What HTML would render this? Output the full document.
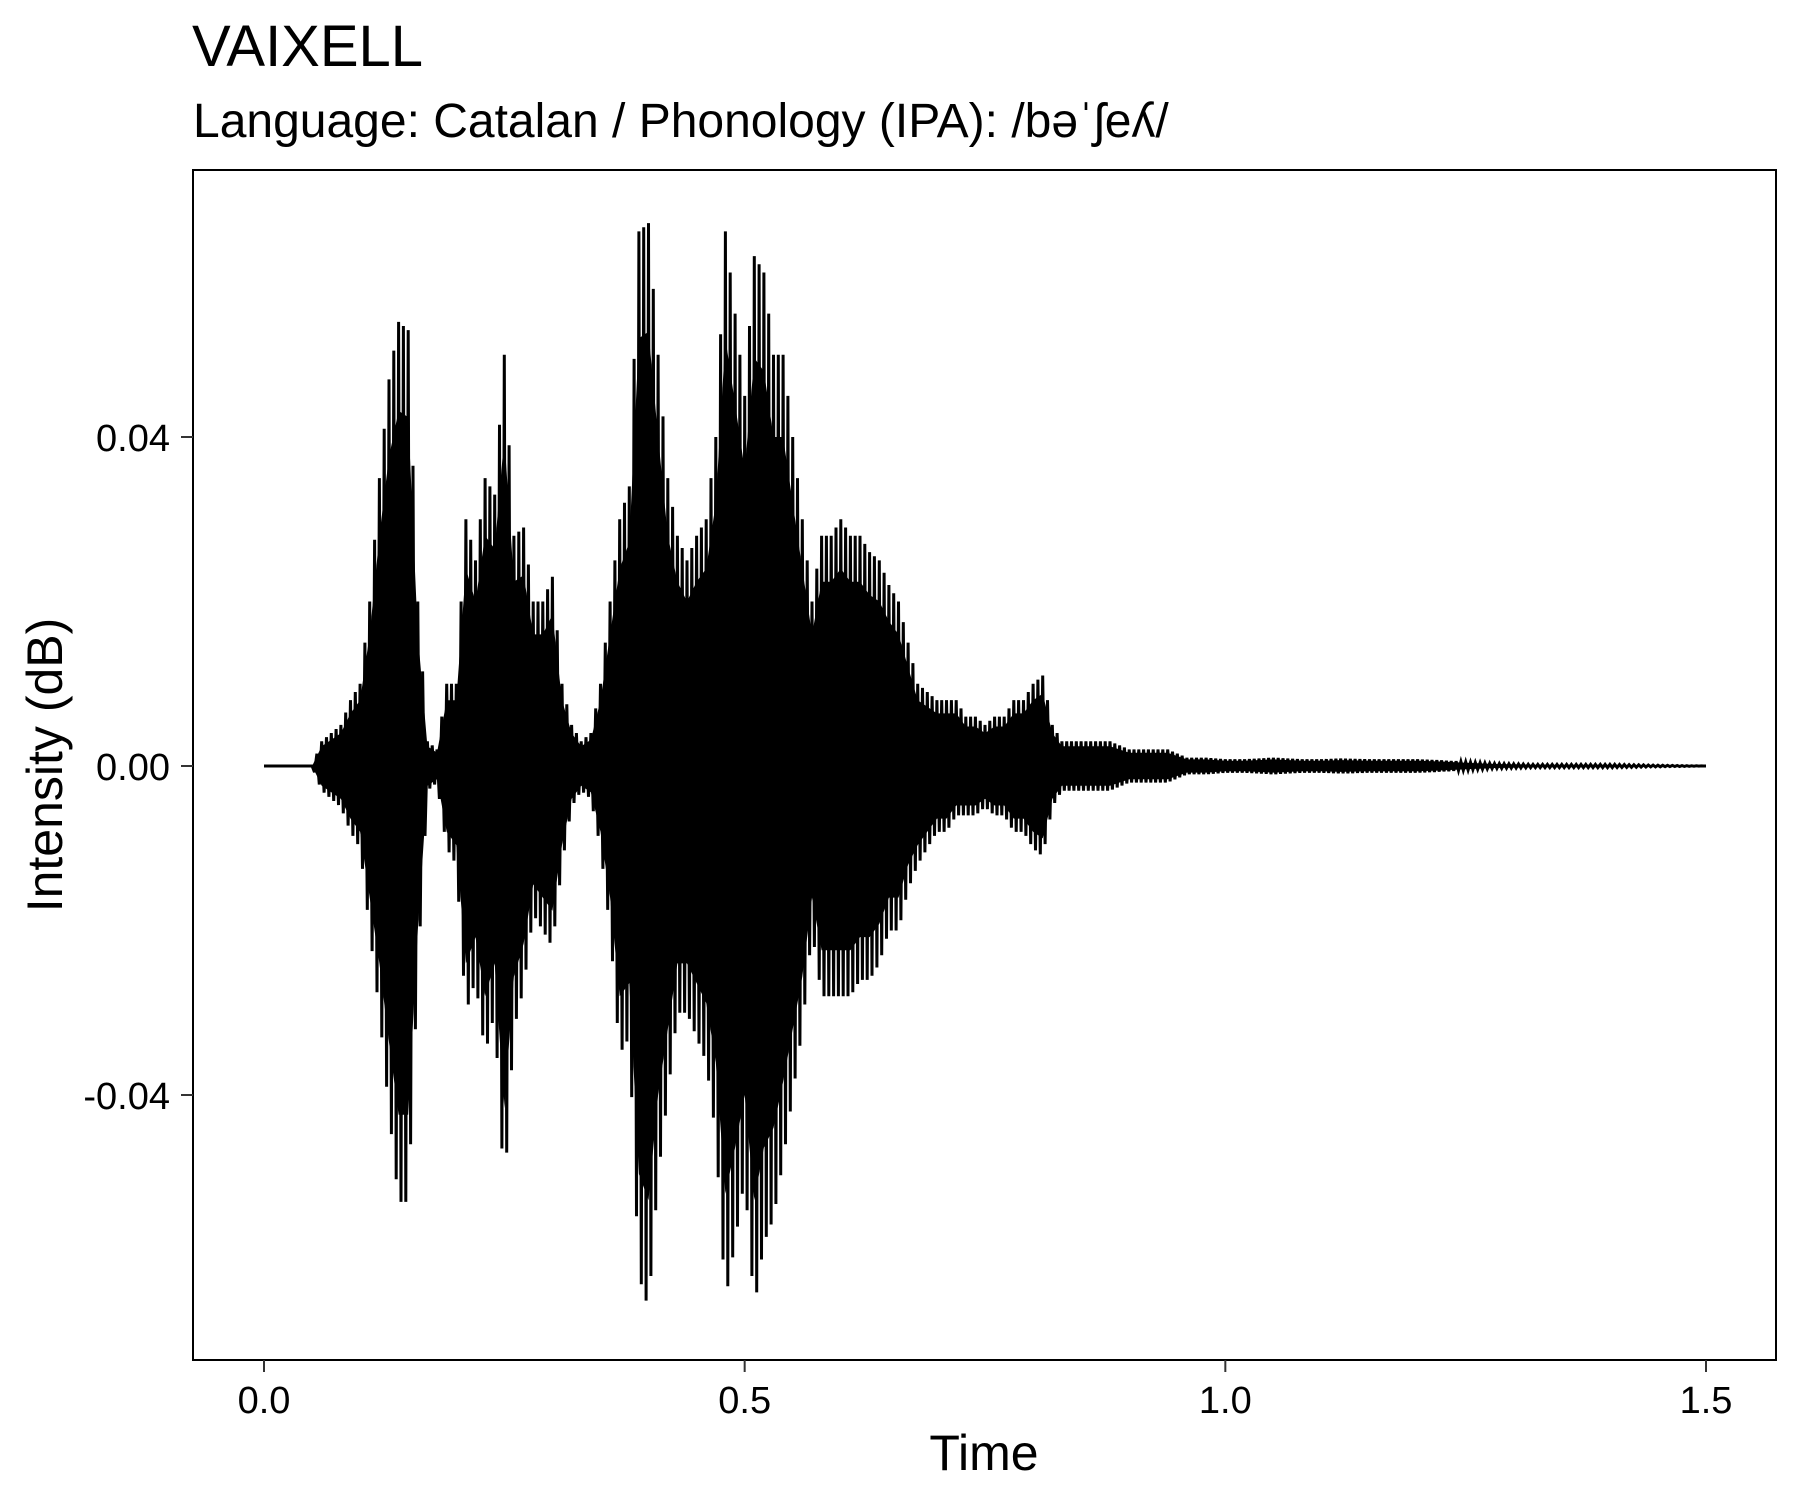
<!DOCTYPE html>
<html><head><meta charset="utf-8"><style>
body{margin:0;background:#fff;}
svg text{font-family:"Liberation Sans",sans-serif;fill:#000;}
</style></head><body>
<svg id="chart" width="1800" height="1500" xmlns="http://www.w3.org/2000/svg">
<rect width="1800" height="1500" fill="#fff"/>
<text x="192" y="66" font-size="58">VAIXELL</text>
<text x="193" y="137" font-size="48">Language: Catalan / Phonology (IPA): /bəˈʃeʎ/</text>
<g id="plot"></g>
<rect x="193" y="170" width="1583" height="1190" fill="none" stroke="#000" stroke-width="2"/>
<text x="984" y="1470" font-size="50" text-anchor="middle">Time</text>
<text transform="translate(62,765) rotate(-90)" font-size="50" text-anchor="middle">Intensity (dB)</text>
</svg>
<script>
const times=[0,0.05,0.06,0.07,0.08,0.09,0.10,0.11,0.12,0.13,0.14,0.15,0.16,0.17,0.18,0.19,0.20,0.21,0.22,0.23,0.24,0.25,0.26,0.27,0.28,0.29,0.30,0.31,0.32,0.33,0.34,0.35,0.36,0.37,0.38,0.39,0.40,0.41,0.42,0.43,0.44,0.45,0.46,0.47,0.48,0.49,0.50,0.51,0.52,0.53,0.54,0.55,0.56,0.57,0.58,0.59,0.60,0.61,0.62,0.63,0.64,0.65,0.66,0.67,0.68,0.69,0.70,0.71,0.72,0.73,0.74,0.75,0.76,0.77,0.78,0.79,0.80,0.81,0.82,0.83,0.84,0.86,0.88,0.90,0.92,0.94,0.96,0.98,1.00,1.02,1.05,1.08,1.10,1.12,1.15,1.18,1.20,1.22,1.25,1.28,1.32,1.36,1.40,1.45,1.50];
const upper=[0,0,0.003,0.004,0.005,0.008,0.010,0.020,0.035,0.047,0.054,0.053,0.020,0.003,0.002,0.010,0.010,0.030,0.025,0.035,0.033,0.050,0.028,0.029,0.020,0.020,0.023,0.010,0.005,0.003,0.004,0.010,0.020,0.030,0.034,0.065,0.066,0.050,0.035,0.028,0.025,0.028,0.030,0.040,0.065,0.055,0.045,0.062,0.060,0.050,0.050,0.040,0.030,0.020,0.028,0.028,0.030,0.028,0.028,0.026,0.025,0.022,0.020,0.015,0.010,0.009,0.008,0.008,0.008,0.006,0.006,0.005,0.006,0.006,0.008,0.008,0.010,0.011,0.005,0.003,0.003,0.003,0.003,0.002,0.002,0.002,0.001,0.001,0.0008,0.0008,0.001,0.0008,0.0008,0.0009,0.0008,0.0008,0.0008,0.0007,0.0005,0.0003,0.0002,0.0002,0.0002,0.0001,0];
const lower=[0,0,-0.003,-0.004,-0.005,-0.008,-0.010,-0.020,-0.030,-0.042,-0.053,-0.053,-0.025,-0.003,-0.002,-0.010,-0.012,-0.030,-0.026,-0.035,-0.030,-0.052,-0.032,-0.027,-0.018,-0.020,-0.022,-0.012,-0.005,-0.003,-0.004,-0.010,-0.020,-0.035,-0.033,-0.062,-0.066,-0.050,-0.040,-0.030,-0.030,-0.033,-0.036,-0.045,-0.065,-0.058,-0.050,-0.066,-0.058,-0.055,-0.048,-0.040,-0.032,-0.020,-0.028,-0.028,-0.028,-0.028,-0.026,-0.026,-0.024,-0.020,-0.020,-0.015,-0.012,-0.010,-0.008,-0.008,-0.006,-0.006,-0.006,-0.005,-0.006,-0.006,-0.008,-0.008,-0.010,-0.011,-0.005,-0.003,-0.003,-0.003,-0.003,-0.002,-0.002,-0.002,-0.001,-0.001,-0.0008,-0.0008,-0.001,-0.0008,-0.0008,-0.0009,-0.0008,-0.0008,-0.0008,-0.0007,-0.0005,-0.0003,-0.0002,-0.0002,-0.0002,-0.0001,0];
const xTicks=[0.0,0.5,1.0,1.5];
const xTickLabels=["0.0","0.5","1.0","1.5"];
const yTicks=[-0.04,0.00,0.04];
const yTickLabels=["-0.04","0.00","0.04"];

const NS="http://www.w3.org/2000/svg";
const xs=t=>264+(t-0)*(1706-264)/1.5;
const ys=v=>766-v*(766-437)/0.04;
const plot=document.getElementById('plot');
const svg=document.getElementById('chart');

let pts=[];
for(let i=0;i<times.length-1;i++){
  const t0=times[i],t1=times[i+1];
  const n=Math.max(2,Math.round((t1-t0)/0.0025));
  for(let k=0;k<n;k++){
    const f=k/n,t=t0+(t1-t0)*f;
    const u=upper[i]+(upper[i+1]-upper[i])*f;
    const l=lower[i]+(lower[i+1]-lower[i])*f;
    pts.push(xs(t).toFixed(1)+','+ys(k%2===0?u:l).toFixed(1));
  }
}
pts.push(xs(times[times.length-1]).toFixed(1)+','+ys(0).toFixed(1));
let env=times.map((t,i)=>xs(t).toFixed(1)+','+ys(upper[i]*0.8).toFixed(1));
for(let i=times.length-1;i>=0;i--)env.push(xs(times[i]).toFixed(1)+','+ys(lower[i]*0.8).toFixed(1));
const area=document.createElementNS(NS,'polygon');
area.setAttribute('points',env.join(' '));
area.setAttribute('fill','#000');


plot.appendChild(area);
const line=document.createElementNS(NS,'polyline');
line.setAttribute('points',pts.join(' '));
line.setAttribute('fill','none');
line.setAttribute('stroke','#000');
line.setAttribute('stroke-width','3');


plot.appendChild(line);

xTicks.forEach((v,i)=>{
  const tk=document.createElementNS(NS,'line');
  tk.setAttribute('x1',xs(v));tk.setAttribute('x2',xs(v));
  tk.setAttribute('y1',1360);tk.setAttribute('y2',1372);
  tk.setAttribute('stroke','#333');tk.setAttribute('stroke-width','2');
  
  
  svg.appendChild(tk);
  const tx=document.createElementNS(NS,'text');
  tx.setAttribute('x',xs(v));tx.setAttribute('y',1413);
  tx.setAttribute('font-size','38');tx.setAttribute('text-anchor','middle');
  tx.textContent=xTickLabels[i];
  
  
  svg.appendChild(tx);
});
yTicks.forEach((v,i)=>{
  const tk=document.createElementNS(NS,'line');
  tk.setAttribute('x1',181);tk.setAttribute('x2',193);
  tk.setAttribute('y1',ys(v));tk.setAttribute('y2',ys(v));
  tk.setAttribute('stroke','#333');tk.setAttribute('stroke-width','2');
  
  
  svg.appendChild(tk);
  const tx=document.createElementNS(NS,'text');
  tx.setAttribute('x',170);tx.setAttribute('y',ys(v)+14);
  tx.setAttribute('font-size','38');tx.setAttribute('text-anchor','end');
  tx.textContent=yTickLabels[i];
  
  
  svg.appendChild(tx);
});
</script>
</body></html>
